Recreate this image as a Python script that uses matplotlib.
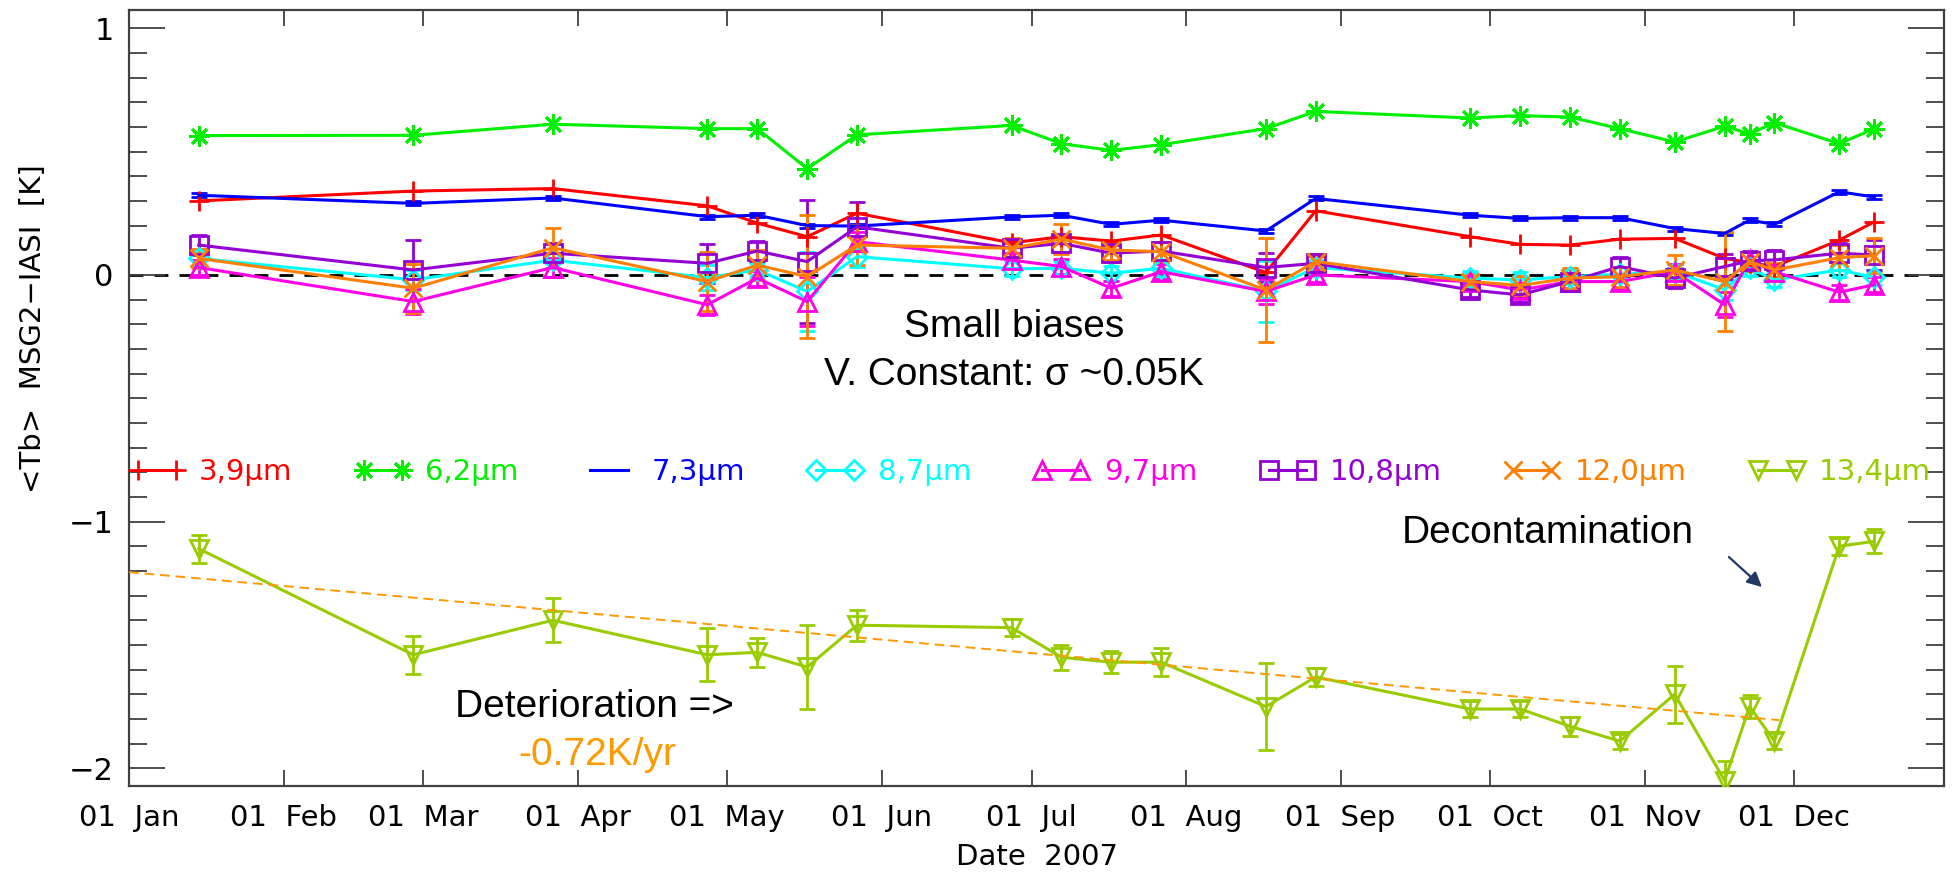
import numpy as np
import matplotlib
matplotlib.use('Agg')
import matplotlib.pyplot as plt
import matplotlib.dates as mdates
from matplotlib.ticker import MultipleLocator

# ---------------- data (day of year 2007, offset from 01 Jan) ----------------
days = [14, 57, 85, 116, 126, 136, 146, 177, 187, 197, 207, 228, 238,
        269, 279, 289, 299, 310, 320, 325, 330, 343, 350]

ch39 = [0.30, 0.34, 0.35, 0.28, 0.21, 0.155, 0.25, 0.13, 0.155, 0.137, 0.162, 0.01, 0.26,
        0.155, 0.124, 0.121, 0.145, 0.148, 0.067, 0.05, 0.034, 0.141, 0.215]
ch62 = [0.565, 0.566, 0.611, 0.593, 0.593, 0.431, 0.568, 0.606, 0.532, 0.505, 0.528, 0.593, 0.663,
        0.636, 0.646, 0.640, 0.593, 0.539, 0.603, 0.572, 0.617, 0.532, 0.593]
ch73 = [0.323, 0.290, 0.312, 0.236, 0.242, 0.200, 0.198, 0.235, 0.242, 0.205, 0.222, 0.178, 0.310,
        0.242, 0.229, 0.232, 0.232, 0.188, 0.168, 0.222, 0.205, 0.337, 0.316]
ch87 = [0.067, -0.02, 0.06, -0.011, 0.02, -0.067, 0.074, 0.025, 0.027, 0.007, 0.027, -0.067, 0.03,
        -0.013, -0.02, -0.007, 0.003, 0.013, -0.06, 0.027, -0.02, 0.02, -0.01]
ch97 = [0.03, -0.108, 0.03, -0.121, -0.013, -0.108, 0.135, 0.06, 0.034, -0.054, 0.013, -0.067, 0.0,
        -0.027, -0.061, -0.027, -0.027, 0.013, -0.121, 0.061, 0.013, -0.07, -0.04]
ch108 = [0.121, 0.02, 0.088, 0.047, 0.097, 0.054, 0.195, 0.108, 0.128, 0.088, 0.097, 0.03, 0.047,
         -0.061, -0.081, -0.027, 0.034, -0.013, 0.034, 0.057, 0.061, 0.088, 0.081]
ch120 = [0.067, -0.054, 0.11, -0.027, 0.04, -0.007, 0.121, 0.108, 0.145, 0.101, 0.094, -0.061, 0.054,
         -0.027, -0.043, -0.013, -0.007, 0.02, -0.027, 0.054, 0.02, 0.07, 0.078]
ch134 = [-1.11, -1.54, -1.40, -1.54, -1.53, -1.59, -1.42, -1.43, -1.55, -1.57, -1.57, -1.75, -1.63,
         -1.76, -1.76, -1.83, -1.89, -1.70, -2.05, -1.75, -1.89, -1.10, -1.08]

# error bar half-lengths
err73 = [0.008] * 23
err87 = [0.03, 0.04, 0.03, 0.05, 0.03, 0.16, 0.04, 0.03, 0.03, 0.03, 0.03, 0.125, 0.03,
         0.03, 0.03, 0.03, 0.03, 0.03, 0.04, 0.03, 0.03, 0.03, 0.03]
err97 = [0.03, 0.05, 0.04, 0.04, 0.03, 0.10, 0.04, 0.03, 0.03, 0.03, 0.03, 0.05, 0.03,
         0.03, 0.03, 0.03, 0.03, 0.03, 0.05, 0.03, 0.03, 0.03, 0.03]
err108 = [0.04, 0.12, 0.04, 0.08, 0.04, 0.25, 0.10, 0.035, 0.035, 0.035, 0.035, 0.06, 0.03,
          0.03, 0.03, 0.03, 0.04, 0.04, 0.05, 0.04, 0.04, 0.04, 0.06]
err120 = [0.04, 0.10, 0.08, 0.12, 0.06, 0.25, 0.08, 0.04, 0.06, 0.04, 0.04, 0.21, 0.03,
          0.03, 0.04, 0.04, 0.04, 0.06, 0.20, 0.04, 0.03, 0.05, 0.07]
err134 = [0.057, 0.076, 0.089, 0.108, 0.06, 0.17, 0.063, 0.034, 0.05, 0.045, 0.057, 0.178, 0.038,
          0.034, 0.034, 0.039, 0.03, 0.116, 0.08, 0.045, 0.034, 0.034, 0.049]

# linear trend of the 13.4 µm channel
trend_days = [0, 331]
trend_vals = [-1.205, -1.805]

labels = ['3,9μm', '6,2μm', '7,3μm', '8,7μm', '9,7μm', '10,8μm', '12,0μm', '13,4μm']
month_fmt = '%d  %b'

# ---------------- figure ----------------
start = np.datetime64('2007-01-01')
dates = start + np.array(days).astype('timedelta64[D]')
tdates = start + np.array(trend_days).astype('timedelta64[D]')

W, H = 1952, 873
fig = plt.figure(figsize=(W / 100, H / 100), dpi=100)
ax = fig.add_axes([129 / W, 87 / H, 1815 / W, 776 / H])

series = [
    (ch39, None, '#ff0000', '+', 14),
    (ch62, None, '#00f000', (8, 2, 0), 15),
    (ch73, err73, '#0000ff', None, 0),
    (ch87, err87, '#00ffff', 'D', 10),
    (ch97, err97, '#ff00e6', '^', 13),
    (ch108, err108, '#9400d3', 's', 13),
    (ch120, err120, '#ff8000', 'x', 13),
    (ch134, err134, '#99cc00', 'v', 13),
]

ax.axhline(0, color='black', lw=2.0, ls=(0, (5, 4)), zorder=1)

handles = []
for vals, err, col, mk, ms in series:
    c = ax.errorbar(dates, vals, yerr=err, color=col, lw=2.2, marker=mk, ms=ms,
                    mfc='none', mec=col, mew=2.0, ecolor=col, elinewidth=2.0,
                    capsize=6, capthick=2.0, zorder=3)
    handles.append(c.lines[0])

ax.plot(tdates, trend_vals, color='#ff9900', lw=1.4, ls=(0, (5, 3)), zorder=5)

ax.set_xlim(np.datetime64('2007-01-01'), np.datetime64('2007-12-31'))
ax.set_ylim(-2.072, 1.074)

ax.xaxis.set_major_locator(mdates.MonthLocator())
ax.xaxis.set_major_formatter(mdates.DateFormatter(month_fmt))
ax.yaxis.set_major_locator(MultipleLocator(1))
ax.yaxis.set_minor_locator(MultipleLocator(0.1))
ax.yaxis.set_major_formatter(matplotlib.ticker.FuncFormatter(
    lambda v, p: ('\u2212%d' % abs(round(v))) if v < 0 else '%d' % round(v)))

tc = '#404040'
ax.tick_params(axis='y', which='major', direction='in', length=26, width=1.3, color=tc,
               left=True, right=True, labelsize=22, pad=11)
ax.tick_params(axis='y', which='minor', direction='in', length=13, width=1.3, color=tc,
               left=True, right=True)
ax.tick_params(axis='x', which='major', direction='in', length=11.5, width=1.3, color=tc,
               top=True, bottom=True, labelsize=21, pad=13)
ax.tick_params(axis='x', which='minor', length=0)
for s in ax.spines.values():
    s.set_color(tc)
    s.set_linewidth(1.6)

ax.set_xlabel('Date  2007', fontsize=21, labelpad=8)
ax.set_ylabel('<Tb>  MSG2\u2212IASI  [K]', fontsize=21)
ax.yaxis.set_label_coords(-0.045, 0.59)

leg = ax.legend(handles=handles, labels=labels, ncol=8, loc='center left',
                bbox_to_anchor=(0.0, 0.405), frameon=False, numpoints=2,
                handlelength=1.9, handletextpad=0.5, columnspacing=2.15,
                fontsize=21, labelcolor='linecolor', borderaxespad=0, borderpad=0)

afont = ['Liberation Sans', 'DejaVu Sans']
ax.text(0.4876, 0.579, 'Small biases', transform=ax.transAxes, ha='center', va='baseline',
        fontsize=28, family=afont)
ax.text(0.4876, 0.5168, 'V. Constant: σ ~0.05K', transform=ax.transAxes, ha='center',
        va='baseline', fontsize=28, family=afont)
ax.text(0.2567, 0.0893, 'Deterioration =>', transform=ax.transAxes, ha='center',
        va='baseline', fontsize=28, family=afont)
ax.text(0.2579, 0.027, '-0.72K/yr', transform=ax.transAxes, ha='center', va='baseline',
        fontsize=28, family=afont, color='#ff9900')
ax.text(0.7818, 0.3127, 'Decontamination', transform=ax.transAxes, ha='center',
        va='baseline', fontsize=28, family=afont)
ax.annotate('', xy=(0.8997, 0.2564), xytext=(0.8815, 0.2951), xycoords='axes fraction',
            textcoords='axes fraction',
            arrowprops=dict(arrowstyle='-|>', color='#1f3864', lw=1.6, mutation_scale=22,
                            shrinkA=0, shrinkB=0))

fig.savefig('out.png', dpi=100)
